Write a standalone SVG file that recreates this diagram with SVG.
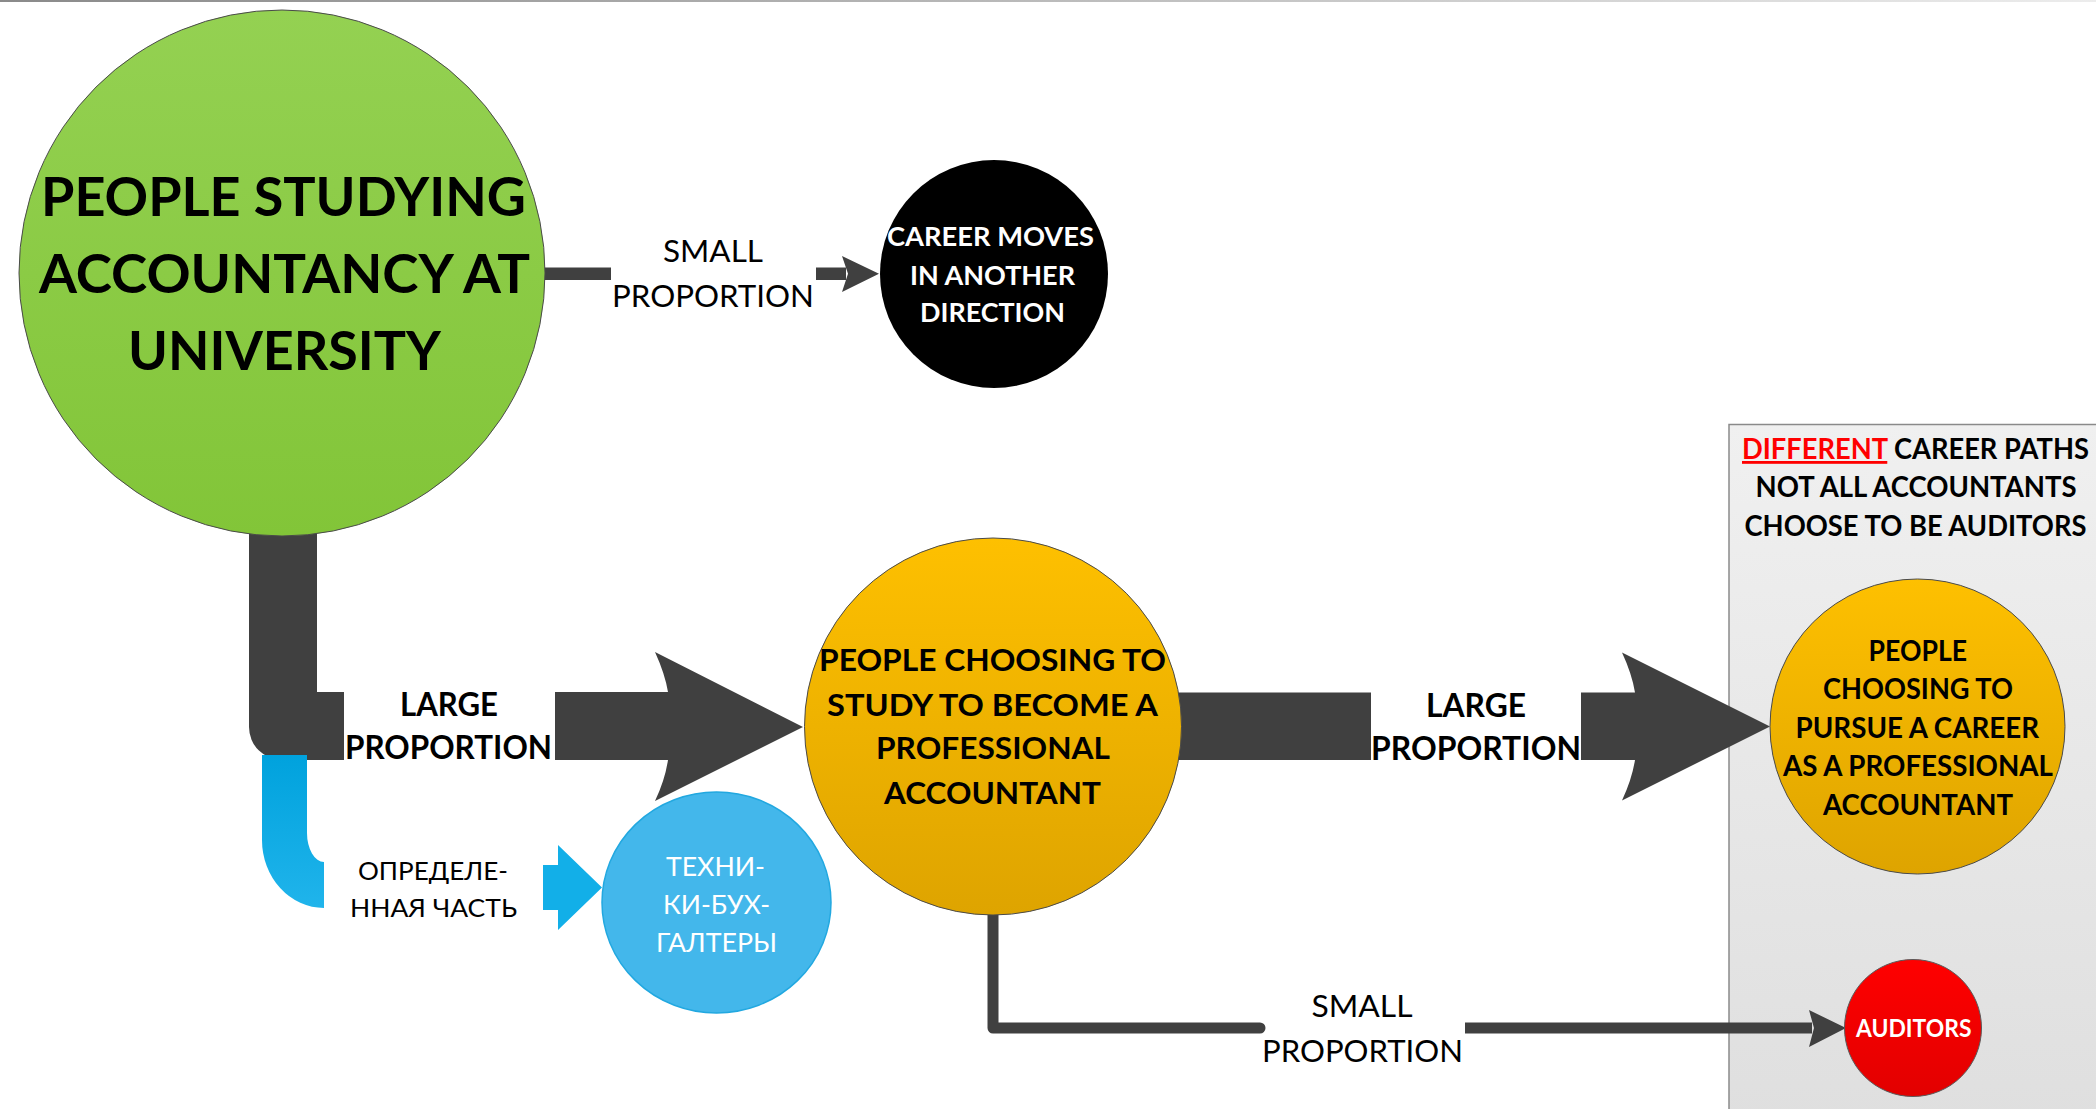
<svg xmlns="http://www.w3.org/2000/svg" width="2096" height="1109" viewBox="0 0 2096 1109">
<defs>
<linearGradient id="gTop" x1="0" y1="0" x2="1" y2="0"><stop offset="0" stop-color="#8a8a8a"/><stop offset="1" stop-color="#ececec"/></linearGradient>
<linearGradient id="gGreen" x1="0" y1="0" x2="0" y2="1"><stop offset="0" stop-color="#94d152"/><stop offset="1" stop-color="#82c538"/></linearGradient>
<linearGradient id="gOrange" x1="0" y1="0" x2="0" y2="1"><stop offset="0" stop-color="#fec000"/><stop offset="1" stop-color="#dea400"/></linearGradient>
<linearGradient id="gRed" x1="0" y1="0" x2="0" y2="1"><stop offset="0" stop-color="#ff0000"/><stop offset="1" stop-color="#e20000"/></linearGradient>
<linearGradient id="gBlueL" x1="0" y1="0" x2="0" y2="1"><stop offset="0" stop-color="#00a2dd"/><stop offset="1" stop-color="#20b4eb"/></linearGradient>
<linearGradient id="gBox" x1="0" y1="0" x2="0" y2="1"><stop offset="0" stop-color="#f0f0f0"/><stop offset="1" stop-color="#dfdfdf"/></linearGradient>
<style>
text{font-family:Lato,"Noto Sans","DejaVu Sans",sans-serif;text-anchor:middle}
.b{font-weight:bold}
.r{font-weight:normal}
.w{fill:#ffffff}
.k{fill:#000000}
.dark{fill:#404040}
.line{fill:none;stroke:#404040;stroke-width:11}
</style>
</defs>
<rect x="0" y="0" width="2096" height="2" fill="url(#gTop)"/>
<g id="career-paths-box">
<rect x="1729" y="424.5" width="380" height="700" fill="url(#gBox)" stroke="#8a8a8a" stroke-width="1.5"/>
<text class="b k" font-size="28" x="1915.5" y="459" textLength="347" lengthAdjust="spacingAndGlyphs"><tspan fill="#ff0000" text-decoration="underline">DIFFERENT</tspan> CAREER PATHS</text>
<text class="b k" font-size="28" x="1916" y="497" textLength="321" lengthAdjust="spacingAndGlyphs">NOT ALL ACCOUNTANTS</text>
<text class="b k" font-size="28" x="1915.5" y="536" textLength="342" lengthAdjust="spacingAndGlyphs">CHOOSE TO BE AUDITORS</text>
</g>
<g id="connectors">
<!-- university -> another direction -->
<rect class="dark" x="540" y="267.5" width="71" height="12.5"/>
<rect class="dark" x="816" y="267.5" width="30" height="12.5"/>
<polygon class="dark" points="842,256 879,273.7 842,292 848,273.7"/>
<text class="r k" font-size="31" x="713" y="262" textLength="100" lengthAdjust="spacingAndGlyphs">SMALL</text>
<text class="r k" font-size="31" x="713" y="307" textLength="202" lengthAdjust="spacingAndGlyphs">PROPORTION</text>
<!-- university -> study to become accountant -->
<path class="dark" d="M249,520 V727 A33,33 0 0 0 282,760 H344 V692 H317 V520 Z"/>
<path class="dark" d="M555,692 H668 Q665,674 655,652 L803,727 L655,801 Q665,780 668,760 H555 Z"/>
<text class="b k" font-size="31.5" x="449" y="715.5" textLength="98" lengthAdjust="spacingAndGlyphs">LARGE</text>
<text class="b k" font-size="31.5" x="448.5" y="759" textLength="207" lengthAdjust="spacingAndGlyphs">PROPORTION</text>
<!-- university -> technicians -->
<path fill="url(#gBlueL)" d="M262,755 V840 A62,68 0 0 0 324,908 V862 A17,29 0 0 1 307,833 V755 Z"/>
<path fill="#12afe8" d="M543,865 H558 V845 L602,887.5 L558,930 V910 H543 Z"/>
<text class="r k" font-size="25.5" x="433" y="880" textLength="150" lengthAdjust="spacingAndGlyphs">ОПРЕДЕЛЕ-</text>
<text class="r k" font-size="25.5" x="433.5" y="917" textLength="167" lengthAdjust="spacingAndGlyphs">ННАЯ ЧАСТЬ</text>
<!-- study -> pursue career -->
<rect class="dark" x="1170" y="692.5" width="201" height="67.5"/>
<path class="dark" d="M1581,692.5 H1635 Q1632,674 1622,652.5 L1770,726.5 L1622,800.5 Q1632,779 1635,760 H1581 Z"/>
<text class="b k" font-size="31.5" x="1476" y="716.5" textLength="100" lengthAdjust="spacingAndGlyphs">LARGE</text>
<text class="b k" font-size="31.5" x="1476" y="760" textLength="210" lengthAdjust="spacingAndGlyphs">PROPORTION</text>
<!-- study -> auditors -->
<path class="line" stroke-linejoin="round" stroke-linecap="round" d="M993,905 V1028 H1260"/>
<path class="line" d="M1465,1028 H1812"/>
<polygon class="dark" points="1809,1010 1846,1028 1809,1047 1814,1028"/>
<text class="r k" font-size="31" x="1362" y="1017" textLength="101" lengthAdjust="spacingAndGlyphs">SMALL</text>
<text class="r k" font-size="31" x="1362.5" y="1061.5" textLength="201" lengthAdjust="spacingAndGlyphs">PROPORTION</text>
</g>
<g id="node-university">
<circle cx="282" cy="273" r="263" fill="url(#gGreen)" stroke="#4a4a4a" stroke-width="1"/>
<text class="b k" font-size="54" x="283.5" y="216" textLength="485" lengthAdjust="spacingAndGlyphs">PEOPLE STUDYING</text>
<text class="b k" font-size="54" x="284.5" y="293" textLength="491" lengthAdjust="spacingAndGlyphs">ACCOUNTANCY AT</text>
<text class="b k" font-size="54" x="284.5" y="370" textLength="313" lengthAdjust="spacingAndGlyphs">UNIVERSITY</text>
</g>
<g id="node-another-direction">
<circle cx="994" cy="274" r="114" fill="#000000"/>
<text class="b w" font-size="27" x="990.5" y="246" textLength="207" lengthAdjust="spacingAndGlyphs">CAREER MOVES</text>
<text class="b w" font-size="27" x="992.5" y="285" textLength="165" lengthAdjust="spacingAndGlyphs">IN ANOTHER</text>
<text class="b w" font-size="27" x="992.5" y="322" textLength="145" lengthAdjust="spacingAndGlyphs">DIRECTION</text>
</g>
<g id="node-study-accountant">
<circle cx="993" cy="726.5" r="188.5" fill="url(#gOrange)" stroke="#4a4a4a" stroke-width="1"/>
<text class="b k" font-size="31" x="992.5" y="671" textLength="347" lengthAdjust="spacingAndGlyphs">PEOPLE CHOOSING TO</text>
<text class="b k" font-size="31" x="992.5" y="716" textLength="331" lengthAdjust="spacingAndGlyphs">STUDY TO BECOME A</text>
<text class="b k" font-size="31" x="993" y="759" textLength="234" lengthAdjust="spacingAndGlyphs">PROFESSIONAL</text>
<text class="b k" font-size="31" x="992.5" y="804" textLength="217" lengthAdjust="spacingAndGlyphs">ACCOUNTANT</text>
</g>
<g id="node-technicians">
<ellipse cx="716.5" cy="902.5" rx="114.5" ry="110.5" fill="#43b7eb" stroke="#22a8e0" stroke-width="1.5"/>
<text class="r w" font-size="26.5" x="715.5" y="875.5" textLength="99" lengthAdjust="spacingAndGlyphs">ТЕХНИ-</text>
<text class="r w" font-size="26.5" x="716.5" y="913.5" textLength="107" lengthAdjust="spacingAndGlyphs">КИ-БУХ-</text>
<text class="r w" font-size="26.5" x="716.5" y="952" textLength="121" lengthAdjust="spacingAndGlyphs">ГАЛТЕРЫ</text>
</g>
<g id="node-pursue-career">
<circle cx="1917.5" cy="726.5" r="147.5" fill="url(#gOrange)" stroke="#4a4a4a" stroke-width="1"/>
<text class="b k" font-size="29" x="1917.8" y="661" textLength="98.5" lengthAdjust="spacingAndGlyphs">PEOPLE</text>
<text class="b k" font-size="29" x="1918" y="699" textLength="190" lengthAdjust="spacingAndGlyphs">CHOOSING TO</text>
<text class="b k" font-size="29" x="1917.3" y="738" textLength="243.5" lengthAdjust="spacingAndGlyphs">PURSUE A CAREER</text>
<text class="b k" font-size="29" x="1918" y="776" textLength="270" lengthAdjust="spacingAndGlyphs">AS A PROFESSIONAL</text>
<text class="b k" font-size="29" x="1918" y="814.6" textLength="190" lengthAdjust="spacingAndGlyphs">ACCOUNTANT</text>
</g>
<g id="node-auditors">
<circle cx="1913" cy="1028" r="68.5" fill="url(#gRed)" stroke="#5a5a5a" stroke-width="1"/>
<text class="b w" font-size="24" x="1913.7" y="1036.7" textLength="115.5" lengthAdjust="spacingAndGlyphs">AUDITORS</text>
</g>
</svg>
